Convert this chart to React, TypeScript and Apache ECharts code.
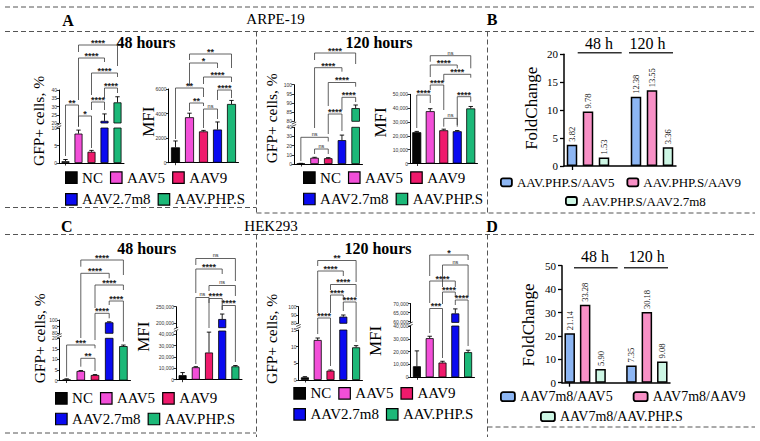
import React, { useEffect, useRef } from 'react';
import * as echarts from 'echarts';

const SERIF = '"Liberation Serif", "Times New Roman", serif';
const SANS = '"Liberation Sans", Arial, sans-serif';

// ---------- data ----------
const GROUPS = ['NC', 'AAV5', 'AAV9', 'AAV2.7m8', 'AAV.PHP.S'];
const GROUP_COLORS = ['#050505', '#f24fd8', '#ef1a6c', '#0a0af0', '#1cb878'];

// ARPE-19 (panel A)
const A48_GFP = [0.5, 8.4, 3.2, 21.3, 32.5];
const A48_GFP_ERR = [0.5, 1.0, 0.4, 4.2, 3.4];
const A48_MFI = [1250, 3700, 2550, 2700, 4780];
const A48_MFI_ERR = [520, 330, 80, 615, 290];
const A120_GFP = [0.5, 6.8, 6.3, 26, 87.2];
const A120_GFP_ERR = [0.2, 0.5, 0.6, 5.5, 1.7];
const A120_MFI = [22600, 37800, 24000, 23300, 39800];
const A120_MFI_ERR = [600, 1800, 800, 500, 1400];

// HEK293 (panel C)
const C48_GFP = [0.5, 4.5, 2.6, 96.5, 16.3];
const C48_GFP_ERR = [0.3, 0.2, 0.2, 0.8, 0.5];
const C48_MFI = [4000, 11000, 24000, 213000, 11800];
const C48_MFI_ERR = [2300, 500, 18000, 15000, 700];
const C120_GFP = [0.8, 12, 2.8, 88, 9.8];
const C120_GFP_ERR = [0.2, 0.6, 0.2, 2, 0.5];
const C120_MFI = [8600, 30500, 11500, 64500, 19600];
const C120_MFI_ERR = [12000, 1500, 1000, 2500, 1500];

// significance comparisons: [groupA, groupB, label]
const A48_GFP_SIG = [[1, 4, '****'], [1, 3, '****'], [2, 4, '****'], [3, 4, '****'], [2, 3, '****'], [0, 1, '**'], [1, 2, '*']];
const A48_MFI_SIG = [[1, 4, '**'], [1, 3, '*'], [2, 4, '****'], [0, 2, '**'], [3, 4, '****'], [1, 2, '**'], [2, 3, 'ns']];
const A120_GFP_SIG = [[1, 4, '****'], [1, 3, '****'], [2, 4, '****'], [3, 4, '****'], [2, 3, '****'], [0, 2, 'ns'], [1, 2, 'ns']];
const A120_MFI_SIG = [[1, 4, 'ns'], [1, 3, '****'], [2, 4, '****'], [1, 2, '****'], [0, 1, '****'], [3, 4, '****'], [2, 3, 'ns']];
const C48_GFP_SIG = [[1, 4, '****'], [1, 3, '****'], [2, 4, '****'], [3, 4, '****'], [2, 3, '****'], [0, 2, '***'], [1, 2, '**']];
const C48_MFI_SIG = [[1, 4, 'ns'], [1, 3, '****'], [2, 4, 'ns'], [1, 2, 'ns'], [2, 3, '****'], [3, 4, '****']];
const C120_GFP_SIG = [[1, 4, '**'], [1, 3, '****'], [2, 4, '****'], [2, 3, '****'], [3, 4, '****'], [1, 2, '****']];
const C120_MFI_SIG = [[1, 4, '*'], [2, 4, 'ns'], [1, 3, '****'], [2, 3, '****'], [3, 4, '****'], [1, 2, '***']];

// fold change (panels B, D)
const TIME_LABELS = ['48 h', '120 h'];
const FOLD_B_NAMES = ['AAV.PHP.S/AAV5', 'AAV.PHP.S/AAV9', 'AAV.PHP.S/AAV2.7m8'];
const FOLD_B_48 = [3.82, 9.78, 1.53];
const FOLD_B_120 = [12.38, 13.55, 3.36];
const FOLD_D_NAMES = ['AAV7m8/AAV5', 'AAV7m8/AAV9', 'AAV7m8/AAV.PHP.S'];
const FOLD_D_48 = [21.14, 33.28, 5.9];
const FOLD_D_120 = [7.35, 30.18, 9.08];
const FOLD_COLORS = ['#8db6f3', '#f890c6', '#cdf6e4'];

// ---------- layout (pixels) ----------
// bracket layout: [line y, left leg end y, right leg end y]
const A48_GFP_SIG_Y = [[45, 52, 66], [58, 100, 62], [73, 95, 77], [88, 98, 93], [102, 110, 110], [105, 156, 126], [116, 127, 148]];
const A48_MFI_SIG_Y = [[54, 60, 68], [63, 86, 68], [77, 84, 82], [88, 139, 97], [90, 100, 98], [103, 111, 106], [109, 128, 119]];
const A120_GFP_SIG_Y = [[53, 60, 64], [67.7, 128, 71.7], [82.5, 106, 86.7], [97.3, 110, 102], [114, 134, 131], [137.3, 161, 141.5], [149, 154, 154]];
const A120_MFI_SIG_Y = [[55.7, 61.7, 68.3], [65, 77, 68.3], [74.3, 81.7, 77.7], [85, 90, 110], [95, 128, 103], [96.7, 125, 101.7], [118.3, 126.7, 126.7]];
const C48_GFP_SIG_Y = [[260, 266.7, 275], [273.3, 338, 278.3], [285, 308, 290], [301, 305, 341.5], [313.3, 340, 318.3], [345, 376.7, 348.3], [358.3, 366.7, 371]];
const C48_MFI_SIG_Y = [[258.5, 265, 281], [269, 293, 274], [285.5, 291, 296], [297.5, 364, 328], [298.5, 303, 310], [305.5, 310, 362]];
const C120_GFP_SIG_Y = [[260.5, 266, 282], [271, 313, 276], [284.5, 290, 297], [295, 313, 300], [302, 311, 342], [318, 334, 366]];
const C120_MFI_SIG_Y = [[255, 276, 260], [265, 287, 296], [281, 303, 287], [292, 304, 297], [300, 305, 346], [308.5, 333, 358]];

type Seg = { top: number; bottom: number; min: number; max: number; interval?: number; ticks?: number[] };
type ChartDef = {
  left: number; width: number; barWidth: number; comma: boolean;
  values: number[]; errs: number[]; sig: any[]; sigY: number[][]; segs: Seg[];
};

const CHARTS: ChartDef[] = [
  { left: 59, width: 65, barWidth: 8, comma: false, values: A48_GFP, errs: A48_GFP_ERR, sig: A48_GFP_SIG, sigY: A48_GFP_SIG_Y,
    segs: [{ top: 128, bottom: 163, min: 0, max: 10, interval: 5 }, { top: 90, bottom: 123, min: 20, max: 40, interval: 5 }] },
  { left: 168.5, width: 70, barWidth: 9, comma: false, values: A48_MFI, errs: A48_MFI_ERR, sig: A48_MFI_SIG, sigY: A48_MFI_SIG_Y,
    segs: [{ top: 89, bottom: 162.7, min: 0, max: 6000, interval: 2000 }] },
  { left: 294, width: 68.5, barWidth: 8.5, comma: false, values: A120_GFP, errs: A120_GFP_ERR, sig: A120_GFP_SIG, sigY: A120_GFP_SIG_Y,
    segs: [{ top: 127.3, bottom: 164, min: 0, max: 40, interval: 10 }, { top: 84.7, bottom: 121.3, min: 80, max: 100, interval: 5 }] },
  { left: 410, width: 67.5, barWidth: 9, comma: true, values: A120_MFI, errs: A120_MFI_ERR, sig: A120_MFI_SIG, sigY: A120_MFI_SIG_Y,
    segs: [{ top: 94.3, bottom: 163.5, min: 0, max: 50000, interval: 10000 }] },
  { left: 59.5, width: 71, barWidth: 8.5, comma: false, values: C48_GFP, errs: C48_GFP_ERR, sig: C48_GFP_SIG, sigY: C48_GFP_SIG_Y,
    segs: [{ top: 338.3, bottom: 380.5, min: 0, max: 20, interval: 5 }, { top: 320, bottom: 333.3, min: 80, max: 100, interval: 10 }] },
  { left: 176, width: 66, barWidth: 8, comma: true, values: C48_MFI, errs: C48_MFI_ERR, sig: C48_MFI_SIG, sigY: C48_MFI_SIG_Y,
    segs: [{ top: 331, bottom: 379.7, min: 0, max: 43000, ticks: [0, 10000, 20000, 30000, 40000] },
           { top: 306.7, bottom: 327.7, min: 187000, max: 250000, ticks: [200000, 250000] }] },
  { left: 298.5, width: 64, barWidth: 8, comma: false, values: C120_GFP, errs: C120_GFP_ERR, sig: C120_GFP_SIG, sigY: C120_GFP_SIG_Y,
    segs: [{ top: 330, bottom: 380, min: 0, max: 15, interval: 5 }, { top: 306.7, bottom: 323.3, min: 80, max: 100, interval: 10 }] },
  { left: 410.5, width: 64, barWidth: 8, comma: true, values: C120_MFI, errs: C120_MFI_ERR, sig: C120_MFI_SIG, sigY: C120_MFI_SIG_Y,
    segs: [{ top: 326, bottom: 377.3, min: 0, max: 40000, interval: 10000 },
           { top: 303.5, bottom: 322.4, min: 59500, max: 70000, ticks: [60000, 65000, 70000] }] },
];

function errorSeries(ai: number, values: number[], errs: number[]) {
  return {
    type: 'custom', xAxisIndex: ai, yAxisIndex: ai, clip: true, silent: true, z: 4,
    data: values.map((v, i) => [i, v]),
    renderItem: (params: any, api: any) => {
      const i = params.dataIndex;
      const cs = params.coordSys;
      const p0 = api.coord([i, values[i]]);
      const p1 = api.coord([i, values[i] + errs[i]]);
      const top = cs.y, bot = cs.y + cs.height;
      const ya = Math.min(p0[1], bot);
      const yb = Math.max(p1[1], top);
      const children: any[] = [];
      if (yb < ya) {
        children.push({ type: 'line', shape: { x1: p0[0], y1: ya, x2: p0[0], y2: yb }, style: { stroke: '#000', lineWidth: 0.9 } });
      }
      if (p1[1] >= top && p1[1] <= bot) {
        children.push({ type: 'line', shape: { x1: p1[0] - 2.2, y1: p1[1], x2: p1[0] + 2.2, y2: p1[1] }, style: { stroke: '#000', lineWidth: 0.9 } });
      }
      return { type: 'group', children };
    },
  };
}

function bracketSeries(ai: number, sig: any[], sigY: number[][], yRef: number) {
  return {
    type: 'custom', xAxisIndex: ai, yAxisIndex: ai, clip: false, silent: true, z: 6,
    data: sig.map((s) => [s[0], yRef]),
    renderItem: (params: any, api: any) => {
      const [a, b, lab] = sig[params.dataIndex];
      const [yl, ya, yb] = sigY[params.dataIndex];
      const xa = api.coord([a, yRef])[0];
      const xb = api.coord([b, yRef])[0];
      const star = lab !== 'ns';
      return {
        type: 'group',
        children: [
          { type: 'polyline', shape: { points: [[xa, ya], [xa, yl], [xb, yl], [xb, yb]] },
            style: { stroke: '#3a3a3a', lineWidth: 0.8, fill: 'none' } },
          { type: 'text', x: (xa + xb) / 2, y: yl - (star ? 2.2 : 3.2),
            style: { text: lab, fill: '#222', font: star ? `bold 9px ${SANS}` : `5.5px ${SANS}`,
              textAlign: 'center', textVerticalAlign: 'middle', align: 'center', verticalAlign: 'middle' } },
        ],
      };
    },
  };
}

function buildOption() {
  const grid: any[] = [];
  const xAxis: any[] = [];
  const yAxis: any[] = [];
  const series: any[] = [];
  const breakMarks: any[] = [];

  CHARTS.forEach((ch) => {
    ch.segs.forEach((sg, si) => {
      grid.push({ left: ch.left, top: sg.top, width: ch.width, height: sg.bottom - sg.top, containLabel: false, outerBoundsMode: 'none' });
      const ai = grid.length - 1;
      const bottomSeg = si === 0;
      xAxis.push({
        type: 'category', gridIndex: ai, data: GROUPS, boundaryGap: true,
        axisLine: { show: bottomSeg, lineStyle: { color: '#000', width: 1 } },
        axisTick: { show: bottomSeg, alignWithLabel: true, length: 2.5, lineStyle: { color: '#000', width: 0.8 } },
        axisLabel: { show: false }, splitLine: { show: false },
      });
      const fmt = (v: number) => (ch.comma ? v.toLocaleString('en-US') : String(v));
      const yAx: any = {
        type: 'value', gridIndex: ai, min: sg.min, max: sg.max,
        axisLine: { show: true, lineStyle: { color: '#000', width: 1 } },
        axisTick: { show: true, length: 2.5, lineStyle: { color: '#000', width: 0.8 } },
        axisLabel: { fontSize: 5, fontFamily: SANS, color: '#333', margin: 2, formatter: fmt },
        splitLine: { show: false },
      };
      if (sg.interval) yAx.interval = sg.interval;
      if (sg.ticks) { yAx.axisTick.customValues = sg.ticks; yAx.axisLabel.customValues = sg.ticks; }
      yAxis.push(yAx);
      GROUPS.forEach((g, gi) => {
        series.push({
          type: 'bar', name: g, xAxisIndex: ai, yAxisIndex: ai, barWidth: ch.barWidth, barGap: '-100%', silent: true, z: 2,
          data: ch.values.map((v, i) => (i === gi ? v : '-')),
          itemStyle: { color: GROUP_COLORS[gi], borderColor: '#000', borderWidth: 0.8 },
        });
      });
      series.push(errorSeries(ai, ch.values, ch.errs));
      if (si === ch.segs.length - 1) series.push(bracketSeries(ai, ch.sig, ch.sigY, sg.min));
    });
    // axis-break marks
    if (ch.segs.length > 1) {
      const y = (ch.segs[0].top + ch.segs[1].bottom) / 2;
      const x = ch.left;
      [-1.2, 1.2].forEach((d) => {
        breakMarks.push({
          type: 'line', silent: true, shape: { x1: x - 2.2, y1: y + d + 1, x2: x + 2.2, y2: y + d - 1 },
          style: { stroke: '#000', lineWidth: 0.7 },
        });
      });
    }
  });

  // fold change panels
  const foldPanel = (names: string[], v48: number[], v120: number[], g: { left: number; top: number; width: number; height: number; max: number; interval: number }) => {
    grid.push({ left: g.left, top: g.top, width: g.width, height: g.height, containLabel: false, outerBoundsMode: 'none' });
    const ai = grid.length - 1;
    const slots = [...names.map((n) => TIME_LABELS[0] + n), 'gap', ...names.map((n) => TIME_LABELS[1] + n)];
    xAxis.push({
      type: 'category', gridIndex: ai, data: slots, boundaryGap: true,
      axisLine: { show: true, lineStyle: { color: '#000', width: 1.5 } },
      axisTick: { show: true, alignWithLabel: true, length: 4, lineStyle: { color: '#000', width: 1.3 } },
      axisLabel: { show: false }, splitLine: { show: false },
    });
    yAxis.push({
      type: 'value', gridIndex: ai, min: 0, max: g.max, interval: g.interval,
      axisLine: { show: true, lineStyle: { color: '#000', width: 1.5 } },
      axisTick: { show: true, length: 4, lineStyle: { color: '#000', width: 1.3 } },
      axisLabel: { fontSize: 11, fontFamily: SERIF, color: '#000', margin: 6 },
      splitLine: { show: false },
    });
    names.forEach((n, r) => {
      series.push({
        type: 'bar', name: n, xAxisIndex: ai, yAxisIndex: ai, barWidth: 10.5, barGap: '-100%', silent: true,
        data: slots.map((_, s) => (s === r ? v48[r] : s === r + names.length + 1 ? v120[r] : '-')),
        itemStyle: { color: FOLD_COLORS[r], borderColor: '#000', borderWidth: 1.5 },
        label: {
          show: true, position: 'top', rotate: 90, align: 'left', verticalAlign: 'middle', distance: 3,
          fontSize: 8.5, fontFamily: SERIF, color: '#111',
          formatter: (p: any) => Number(p.value).toFixed(2),
        },
      });
    });
  };
  foldPanel(FOLD_B_NAMES, FOLD_B_48, FOLD_B_120, { left: 564, top: 54.3, width: 112, height: 111.7, max: 20, interval: 5 });
  foldPanel(FOLD_D_NAMES, FOLD_D_48, FOLD_D_120, { left: 562, top: 265.7, width: 108, height: 117, max: 50, interval: 10 });

  // legends
  const groupLegend = (names: string[], left: number, cy: number) => ({
    data: names, left, top: cy - 7.5, orient: 'horizontal', padding: 0, selectedMode: false,
    itemWidth: 11.5, itemHeight: 11.5, itemGap: 7, icon: 'rect',
    itemStyle: { borderColor: '#000', borderWidth: 1.2 },
    textStyle: { fontFamily: SERIF, fontSize: 15, color: '#000' },
  });
  const foldLegend = (names: string[], left: number, cy: number, size: number, iw: number, ih: number, gap: number) => ({
    data: names, left, top: cy - size / 2, orient: 'horizontal', padding: 0, selectedMode: false,
    itemWidth: iw, itemHeight: ih, itemGap: gap, icon: 'roundRect',
    itemStyle: { borderColor: '#000', borderWidth: 1.8 },
    textStyle: { fontFamily: SERIF, fontSize: size, color: '#000' },
  });
  const legend = [
    groupLegend(GROUPS.slice(0, 3), 65, 177.7), groupLegend(GROUPS.slice(3), 65, 199.3),
    groupLegend(GROUPS.slice(0, 3), 303, 177.7), groupLegend(GROUPS.slice(3), 303, 199),
    groupLegend(GROUPS.slice(0, 3), 55, 398.3), groupLegend(GROUPS.slice(3), 55, 419),
    groupLegend(GROUPS.slice(0, 3), 293.3, 393.3), groupLegend(GROUPS.slice(3), 293.3, 414.3),
    foldLegend(FOLD_B_NAMES.slice(0, 2), 500, 182.3, 13, 11, 8, 12), foldLegend(FOLD_B_NAMES.slice(2), 565, 201, 13, 11, 8, 12),
    foldLegend(FOLD_D_NAMES.slice(0, 2), 500, 396.7, 14, 14, 9, 20), foldLegend(FOLD_D_NAMES.slice(2), 540, 416.7, 14, 14, 9, 20),
  ];

  // graphics
  const dash = (x1: number, y1: number, x2: number, y2: number) => ({
    type: 'line', shape: { x1, y1, x2, y2 }, silent: true,
    style: { stroke: '#555', lineWidth: 1, lineDash: [5, 3] },
  });
  const txt = (text: string, x: number, y: number, size: number, bold = false, rot = 0) => ({
    type: 'text', x, y, rotation: rot, silent: true,
    style: { text, fill: '#000', font: `${bold ? 'bold ' : ''}${size}px ${SERIF}`,
      textAlign: 'center', textVerticalAlign: 'middle', align: 'center', verticalAlign: 'middle' },
  });
  const seg = (x1: number, x2: number, y: number) => ({
    type: 'line', shape: { x1, y1: y, x2, y2: y }, silent: true, style: { stroke: '#333', lineWidth: 1.5 },
  });
  const R = Math.PI / 2;
  const graphic = [
    dash(5, 7, 755, 7), dash(5, 31.5, 755, 31.5),
    dash(5, 207.5, 256, 207.5), dash(256.5, 213, 755, 213),
    dash(256.5, 31.5, 256.5, 213), dash(487.5, 31.5, 487.5, 213),
    dash(5, 234.5, 755, 234.5), dash(5, 433, 256, 433),
    dash(256.5, 234.5, 256.5, 437), dash(487.5, 234.5, 487.5, 437), dash(487.5, 427, 755, 427),
    txt('A', 68, 20.5, 16, true), txt('ARPE-19', 275.5, 19, 15), txt('B', 492, 19.5, 16, true),
    txt('C', 66.7, 226, 16, true), txt('HEK293', 271, 226, 15), txt('D', 492, 226.5, 16, true),
    txt('48 hours', 146, 42, 16, true), txt('120 hours', 379, 42, 16, true),
    txt('48 hours', 146.7, 248.3, 16, true), txt('120 hours', 378, 248.3, 16, true),
    txt('GFP+ cells, %', 38.3, 121, 15.5, false, R), txt('GFP+ cells, %', 271.7, 118.3, 15.5, false, R),
    txt('GFP+ cells, %', 39.3, 338.3, 15.5, false, R), txt('GFP+ cells, %', 271.7, 339, 15.5, false, R),
    txt('MFI', 148.3, 121.7, 17, false, R), txt('MFI', 380, 122.5, 17, false, R),
    txt('MFI', 143.3, 336.7, 17, false, R), txt('MFI', 375, 341, 17, false, R),
    txt('FoldChange', 531.7, 108.3, 17, false, R), txt('FoldChange', 528.3, 325, 17, false, R),
    txt(TIME_LABELS[0], 599, 43.3, 16), txt(TIME_LABELS[1], 647.5, 43.3, 16),
    seg(577.7, 621.7, 52.7), seg(629, 673, 52.7),
    txt(TIME_LABELS[0], 595, 256.7, 16), txt(TIME_LABELS[1], 646.7, 256.7, 16),
    seg(574, 617.7, 267.7), seg(624, 668, 267.7),
    ...breakMarks,
  ];

  return { animation: false, backgroundColor: '#ffffff', grid, xAxis, yAxis, series, legend, graphic };
}

export default function App() {
  const ref = useRef<HTMLDivElement>(null);
  useEffect(() => {
    document.body.style.margin = '0';
    if (!ref.current) return;
    const chart = echarts.init(ref.current, undefined, { renderer: 'svg' });
    chart.setOption(buildOption() as any);
    return () => chart.dispose();
  }, []);
  return <div ref={ref} style={{ width: 760, height: 441 }} />;
}
